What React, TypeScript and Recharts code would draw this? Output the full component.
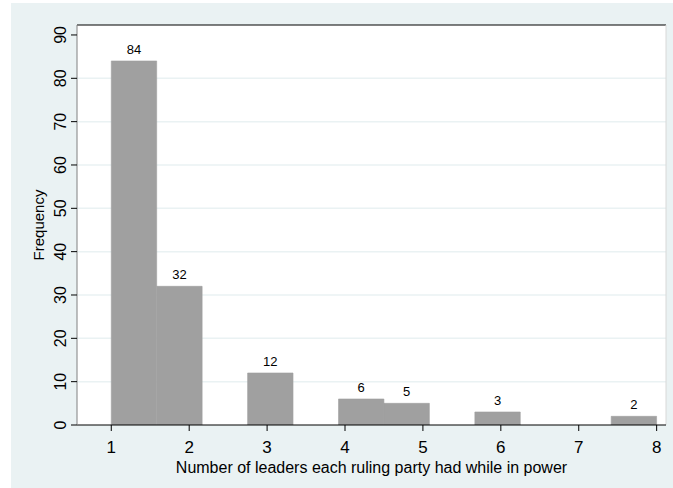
import React from 'react';
import { BarChart, Bar, XAxis, YAxis, CartesianGrid, LabelList, ReferenceLine } from 'recharts';

// histogram of leaders per ruling party, 12 equal bins over [1, 8]
const binRange = [1, 8];
const frequencies = [84, 32, 0, 12, 0, 6, 5, 0, 3, 0, 0, 2];
const xTicks = [1, 2, 3, 4, 5, 6, 7, 8];
const yTicks = [0, 10, 20, 30, 40, 50, 60, 70, 80, 90];
const gridValues = [10, 20, 30, 40, 50, 60, 70, 80];

const binWidth = (binRange[1] - binRange[0]) / frequencies.length;
const data = frequencies.map((count, i) => ({
  mid: binRange[0] + (i + 0.5) * binWidth,
  count,
}));

const W = 673;
const H = 488;
const margin = { top: 25, right: 7, left: 11, bottom: 0 };
const yAxisWidth = 66;
const xAxisHeight = 63;
const xDomain: [number, number] = [0.56, 8.12];
const yDomain: [number, number] = [0, 92.3];

const plotWidth = W - margin.left - margin.right - yAxisWidth;
// a hair under the band so recharts doesn't shrink the bars to 90%
const barPx = (plotWidth * binWidth) / (xDomain[1] - xDomain[0]) - 0.05;

const FONT = '"Liberation Sans", Arial, Helvetica, sans-serif';
const BG = '#eaf2f3';

const YTick = ({ x, y, payload }: any) => (
  <text
    x={x - 3}
    y={y}
    transform={`rotate(-90, ${x - 3}, ${y})`}
    textAnchor="middle"
    fontSize={16}
    fontFamily={FONT}
    fill="#000"
  >
    {payload.value}
  </text>
);

const BarValue = ({ x, y, width, value }: any) => {
  if (!value) return null;
  return (
    <text x={x + width / 2} y={y - 7} textAnchor="middle" fontSize={13} fontFamily={FONT} fill="#000">
      {value}
    </text>
  );
};

const YTitle = ({ viewBox }: any) => {
  const tx = viewBox.x + 33;
  const ty = viewBox.y + viewBox.height / 2;
  return (
    <text x={tx} y={ty} transform={`rotate(-90, ${tx}, ${ty})`} textAnchor="middle" fontSize={15} fontFamily={FONT} fill="#000">
      Frequency
    </text>
  );
};

const XTitle = ({ viewBox }: any) => (
  <text
    x={viewBox.x + viewBox.width / 2}
    y={viewBox.y + 48}
    textAnchor="middle"
    fontSize={16}
    fontFamily={FONT}
    fill="#000"
  >
    Number of leaders each ruling party had while in power
  </text>
);

const App: React.FC = () => {
  return (
    <div style={{ position: 'absolute', left: 0, top: 0, width: W, height: H, background: '#fff' }}>
      <div style={{ position: 'absolute', left: 11, top: 3, right: 0, bottom: 0, background: BG }} />
      <div style={{ position: 'absolute', left: 0, top: 0 }}>
        <BarChart width={W} height={H} data={data} margin={margin} barGap={0} barCategoryGap={0}>
          <CartesianGrid
            vertical={false}
            horizontalValues={gridValues}
            stroke={BG}
            strokeWidth={1.5}
            fill="#ffffff"
          />
          <XAxis
            type="number"
            dataKey="mid"
            domain={xDomain}
            ticks={xTicks}
            allowDataOverflow
            height={xAxisHeight}
            tickSize={6}
            tickMargin={10}
            stroke="#000"
            tickLine={{ stroke: '#000' }}
            tick={{ fontSize: 17, fontFamily: FONT, fill: '#000' }}
            label={<XTitle />}
          />
          <YAxis
            type="number"
            domain={yDomain}
            ticks={yTicks}
            allowDataOverflow
            width={yAxisWidth}
            tickSize={6}
            stroke="#808080"
            tickLine={{ stroke: '#000' }}
            tick={<YTick />}
            label={<YTitle />}
          />
          <ReferenceLine y={yDomain[1]} stroke="#000" strokeWidth={1.2} />
          <ReferenceLine x={xDomain[1]} stroke="#d8d8d8" />
          <Bar
            dataKey="count"
            fill="#a0a0a0"
            stroke="#a0a0a0"
            strokeWidth={0.6}
            barSize={barPx}
            isAnimationActive={false}
          >
            <LabelList dataKey="count" content={<BarValue />} />
          </Bar>
        </BarChart>
      </div>
    </div>
  );
};

export default App;
